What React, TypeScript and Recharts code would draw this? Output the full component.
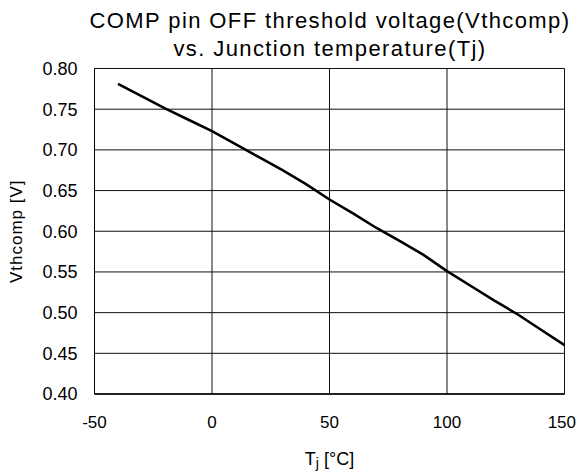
import { LineChart, Line, XAxis, YAxis, CartesianGrid, Label } from "recharts";

const tjValues = [-40, -30, -20, -10, 0, 10, 20, 30, 40, 50, 60, 70, 80, 90, 100, 110, 120, 130, 140, 150];
const vthValues = [
  0.781, 0.766, 0.751, 0.737, 0.723, 0.707, 0.691, 0.675, 0.658, 0.639, 0.622, 0.604, 0.588, 0.571, 0.551,
  0.533, 0.515, 0.498, 0.479, 0.46,
];
const xTicks = [-50, 0, 50, 100, 150];
const yTicks = [0.4, 0.45, 0.5, 0.55, 0.6, 0.65, 0.7, 0.75, 0.8];
const titleLines = ["COMP pin OFF threshold voltage(Vthcomp)", "vs. Junction temperature(Tj)"];

const data = tjValues.map((tj, i) => ({ tj, vth: vthValues[i] }));

const FONT = "'Liberation Sans', Arial, sans-serif";
const W = 578;
const H = 473;

// keeps the right-most tick label inside the picture
function XTick(props: any) {
  const { x, y, payload } = props;
  const label = String(payload.value);
  const half = label.length * 17 * 0.278;
  const tx = Math.min(x, W - 2 - half);
  return (
    <text x={tx} y={y} dy="0.71em" textAnchor="middle" fontFamily={FONT} fontSize={17} fill="#000">
      {label}
    </text>
  );
}

function XLabel(props: any) {
  const vb = props.viewBox;
  const cx = vb.x + vb.width / 2;
  return (
    <text x={cx} y={vb.y + 71} textAnchor="middle" fontFamily={FONT} fontSize={18} fill="#000">
      <tspan>T</tspan>
      <tspan fontSize={14} dy={3}>j</tspan>
      <tspan dy={-3}> [°C]</tspan>
    </text>
  );
}

function YLabel(props: any) {
  const vb = props.viewBox;
  const cx = 16;
  const cy = vb.y + vb.height / 2;
  return (
    <text
      x={cx}
      y={cy}
      transform={`rotate(-90 ${cx} ${cy})`}
      textAnchor="middle"
      dominantBaseline="central"
      fontFamily={FONT}
      fontSize={17}
      letterSpacing={1}
      fill="#000"
    >
      Vthcomp [V]
    </text>
  );
}

export default function App() {
  return (
    <div style={{ position: "relative", width: W, height: H, fontFamily: FONT }}>
      <style>{"html,body{margin:0;padding:0;overflow:hidden}"}</style>
      <div
        style={{
          position: "absolute",
          left: 82,
          width: 496,
          top: 7,
          textAlign: "center",
          fontSize: 22,
          lineHeight: "28px",
          letterSpacing: 1.4,
          whiteSpace: "nowrap",
          color: "#000",
        }}
      >
        {titleLines.map((t) => (
          <div key={t}>{t}</div>
        ))}
      </div>
      <LineChart width={W} height={H} data={data} margin={{ top: 68.5, right: 13.5, bottom: 0, left: 0 }}>
        <CartesianGrid stroke="#111" strokeWidth={1} />
        <XAxis
          dataKey="tj"
          type="number"
          domain={[-50, 150]}
          ticks={xTicks}
          height={79}
          tickLine={false}
          tickSize={0}
          tickMargin={22}
          axisLine={{ stroke: "#000", strokeWidth: 1.5 }}
          tick={<XTick />}
        >
          <Label content={<XLabel />} />
        </XAxis>
        <YAxis
          type="number"
          domain={[0.4, 0.8]}
          ticks={yTicks}
          width={94.5}
          tickLine={false}
          tickSize={0}
          tickMargin={17}
          axisLine={{ stroke: "#000", strokeWidth: 1 }}
          tickFormatter={(v: number) => v.toFixed(2)}
          tick={{ fill: "#000", fontSize: 18, fontFamily: FONT }}
        >
          <Label content={<YLabel />} />
        </YAxis>
        <Line
          type="linear"
          dataKey="vth"
          stroke="#000"
          strokeWidth={2.6}
          dot={false}
          isAnimationActive={false}
        />
      </LineChart>
    </div>
  );
}
